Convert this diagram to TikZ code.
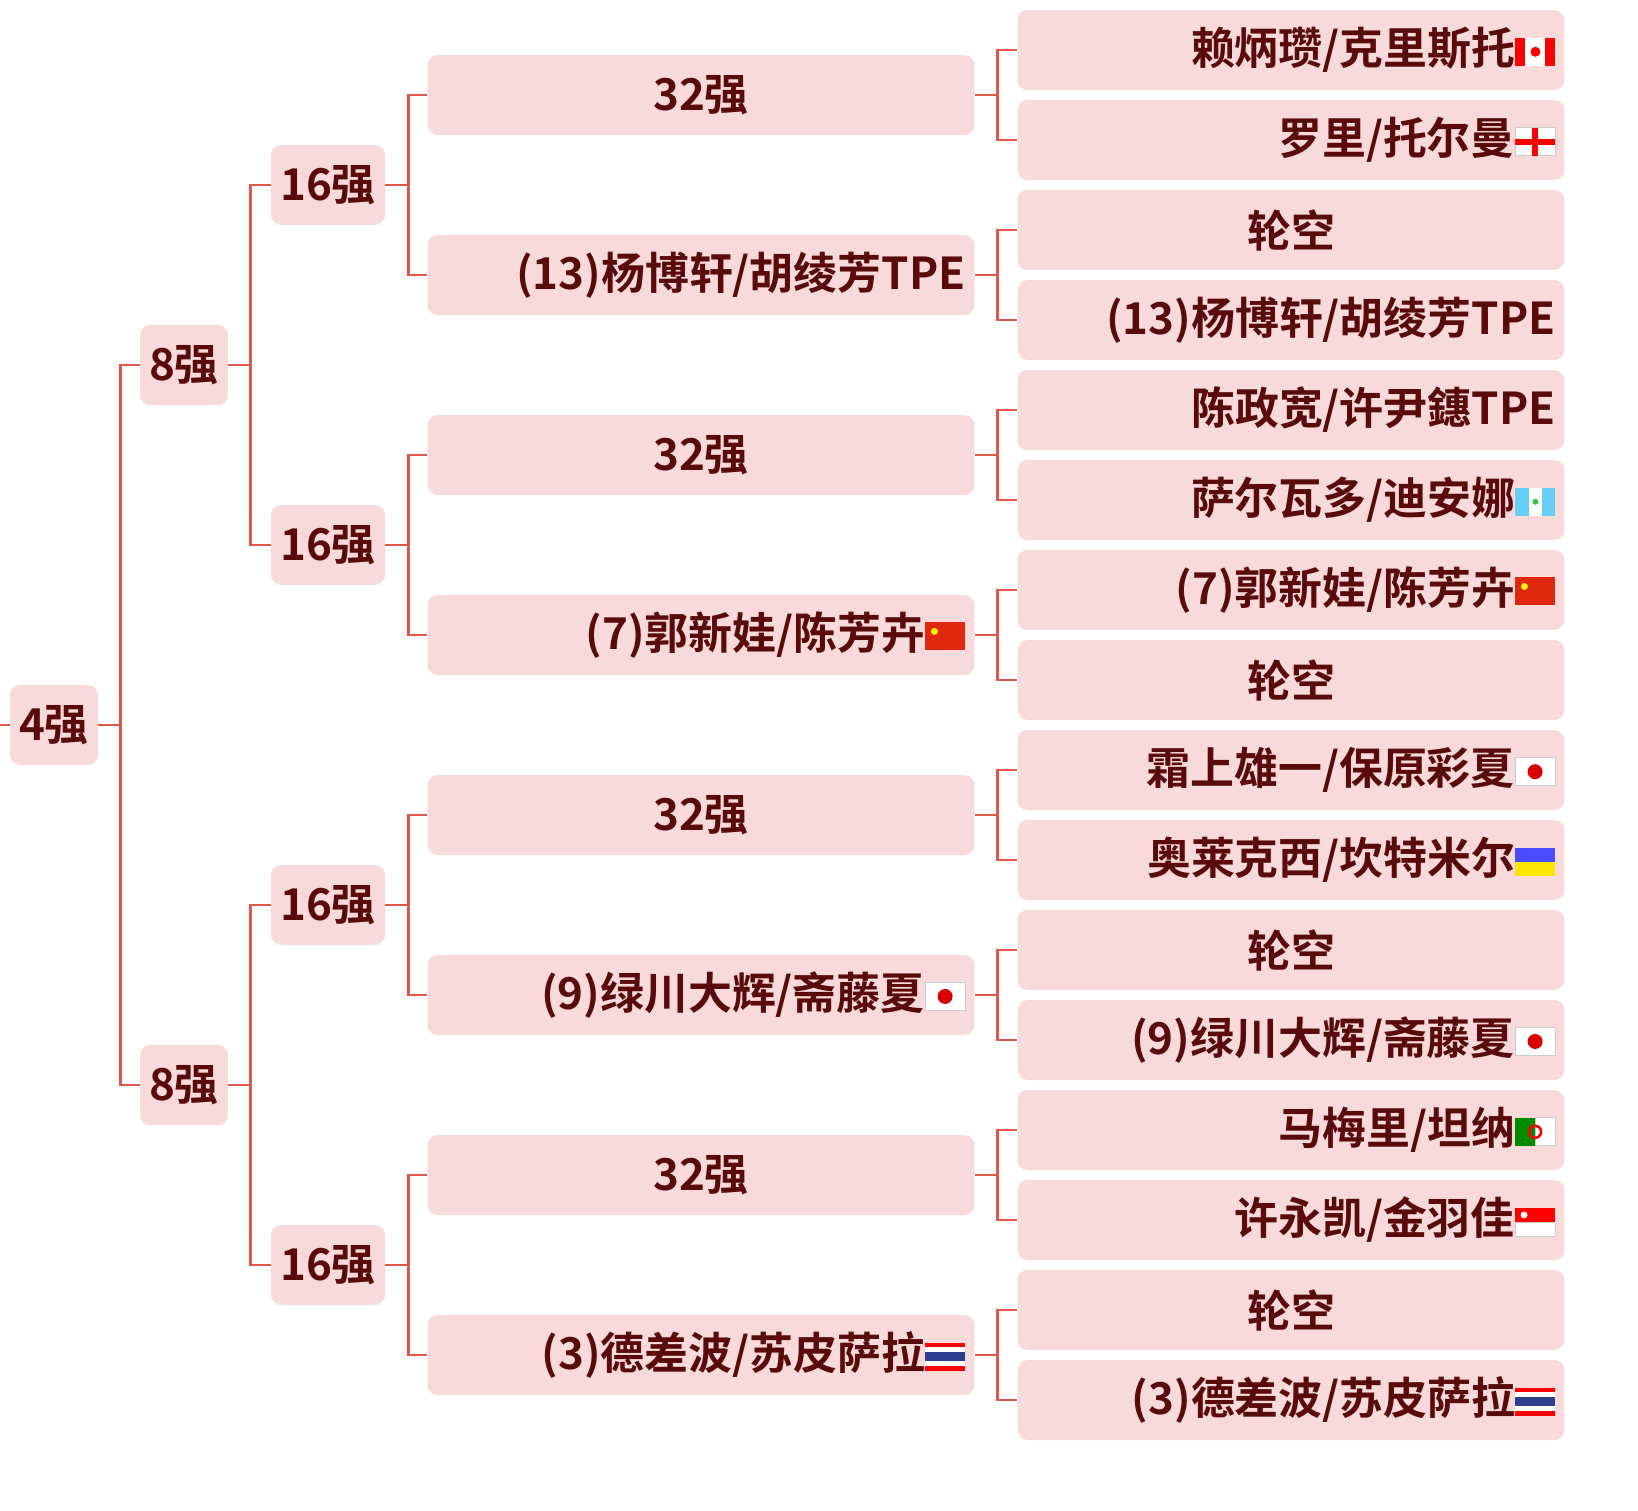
\documentclass[tikz,border=0pt]{standalone}
\usepackage{fontspec}
\newfontfamily\cjk{Noto Sans CJK SC Bold}
\usetikzlibrary{calc}
\definecolor{boxfill}{HTML}{F7DAD9}
\definecolor{linered}{HTML}{E0584A}
\definecolor{txtred}{HTML}{5A0A0A}
\definecolor{fred}{HTML}{DE2910}
\definecolor{fblue}{HTML}{2D3F8F}
\tikzset{
  box/.style={fill=boxfill, rounded corners=0.2cm, minimum height=1.6cm, inner sep=0.18cm,
    font=\cjk\fontsize{25}{30}\selectfont, text=txtred, anchor=center},
  smallbox/.style={box, text width=#1, align=center},
  wide/.style={box, text width=10.58cm, align=right},
  widec/.style={box, text width=10.58cm, align=center},
  link/.style={draw=linered, line width=1.6pt}
}
% flags
\newcommand{\flagbase}[1]{\tikz[baseline=0.02cm,x=1cm,y=1cm,sharp corners,line width=0.4pt]{#1}}
\newcommand{\fCAN}{\flagbase{\fill[red] (0,0) rectangle (0.8,0.56);\fill[white] (0.2,0) rectangle (0.6,0.56);\fill[red] (0.4,0.28) circle (0.1);}}
\newcommand{\fENG}{\flagbase{\fill[white,draw=gray!40] (0,0) rectangle (0.8,0.56);\fill[red] (0.34,0) rectangle (0.46,0.56);\fill[red] (0,0.22) rectangle (0.8,0.34);}}
\newcommand{\fCHN}{\flagbase{\fill[fred] (0,0) rectangle (0.8,0.56);\fill[yellow] (0.18,0.38) circle (0.07);}}
\newcommand{\fGUA}{\flagbase{\fill[cyan!60] (0,0) rectangle (0.8,0.56);\fill[white] (0.27,0) rectangle (0.53,0.56);\fill[green!50!gray] (0.4,0.28) circle (0.06);}}
\newcommand{\fJPN}{\flagbase{\fill[white,draw=gray!40] (0,0) rectangle (0.8,0.56);\fill[red!85!black] (0.4,0.28) circle (0.15);}}
\newcommand{\fUKR}{\flagbase{\fill[yellow!90!orange] (0,0) rectangle (0.8,0.28);\fill[blue!70] (0,0.28) rectangle (0.8,0.56);}}
\newcommand{\fALG}{\flagbase{\fill[green!55!black] (0,0) rectangle (0.4,0.56);\fill[white,draw=gray!40] (0.4,0) rectangle (0.8,0.56);\draw[red,line width=1.5pt] (0.4,0.28) circle (0.12);}}
\newcommand{\fSGP}{\flagbase{\fill[red] (0,0.28) rectangle (0.8,0.56);\fill[white,draw=gray!40] (0,0) rectangle (0.8,0.28);\fill[white] (0.18,0.42) circle (0.07);}}
\newcommand{\fTHA}{\flagbase{\fill[red] (0,0) rectangle (0.8,0.56);\fill[white] (0,0.09) rectangle (0.8,0.47);\fill[fblue] (0,0.19) rectangle (0.8,0.37);}}
\begin{document}
\begin{tikzpicture}[x=0.02cm,y=-0.02cm]
\useasboundingbox (0,0) rectangle (1638,1510);
% rounds
\coordinate (stub) at (0,725);
\node[smallbox=1.4cm] (q) at (54,725) {4强};
\node[smallbox=1.4cm] (e1) at (184,365) {8强};
\node[smallbox=1.4cm] (e2) at (184,1085) {8强};
\foreach \i/\y in {1/185,2/545,3/905,4/1265}
  \node[smallbox=1.92cm] (s\i) at (328,\y) {16强};
% 32 round
\node[widec] (t1) at (701,95) {32强};
\node[wide] (t2) at (701,275) {(13)杨博轩/胡绫芳TPE};
\node[widec] (t3) at (701,455) {32强};
\node[wide] (t4) at (701,635) {(7)郭新娃/陈芳卉\fCHN};
\node[widec] (t5) at (701,815) {32强};
\node[wide] (t6) at (701,995) {(9)绿川大辉/斋藤夏\fJPN};
\node[widec] (t7) at (701,1175) {32强};
\node[wide] (t8) at (701,1355) {(3)德差波/苏皮萨拉\fTHA};
% entries
\node[wide] (p1) at (1291,50) {赖炳瓒/克里斯托\fCAN};
\node[wide] (p2) at (1291,140) {罗里/托尔曼\fENG};
\node[widec] (p3) at (1291,230) {轮空};
\node[wide] (p4) at (1291,320) {(13)杨博轩/胡绫芳TPE};
\node[wide] (p5) at (1291,410) {陈政宽/许尹鏸TPE};
\node[wide] (p6) at (1291,500) {萨尔瓦多/迪安娜\fGUA};
\node[wide] (p7) at (1291,590) {(7)郭新娃/陈芳卉\fCHN};
\node[widec] (p8) at (1291,680) {轮空};
\node[wide] (p9) at (1291,770) {霜上雄一/保原彩夏\fJPN};
\node[wide] (p10) at (1291,860) {奥莱克西/坎特米尔\fUKR};
\node[widec] (p11) at (1291,950) {轮空};
\node[wide] (p12) at (1291,1040) {(9)绿川大辉/斋藤夏\fJPN};
\node[wide] (p13) at (1291,1130) {马梅里/坦纳\fALG};
\node[wide] (p14) at (1291,1220) {许永凯/金羽佳\fSGP};
\node[widec] (p15) at (1291,1310) {轮空};
\node[wide] (p16) at (1291,1400) {(3)德差波/苏皮萨拉\fTHA};
% connectors
\draw[link] (stub) -- (q.west);
\foreach \c in {e1,e2} \draw[link] (q.east) -- ++(22,0) |- (\c.west);
\draw[link] (e1.east) -- ++(22,0) |- (s1.west);
\draw[link] (e1.east) -- ++(22,0) |- (s2.west);
\draw[link] (e2.east) -- ++(22,0) |- (s3.west);
\draw[link] (e2.east) -- ++(22,0) |- (s4.west);
\foreach \i in {1,...,4} {
  \pgfmathtruncatemacro\a{2*\i-1}
  \pgfmathtruncatemacro\b{2*\i}
  \draw[link] (s\i.east) -- ++(23,0) |- (t\a.west);
  \draw[link] (s\i.east) -- ++(23,0) |- (t\b.west);
}
\foreach \i in {1,...,8} {
  \pgfmathtruncatemacro\a{2*\i-1}
  \pgfmathtruncatemacro\b{2*\i}
  \draw[link] (t\i.east) -- ++(23,0) |- (p\a.west);
  \draw[link] (t\i.east) -- ++(23,0) |- (p\b.west);
}
\end{tikzpicture}
\end{document}
